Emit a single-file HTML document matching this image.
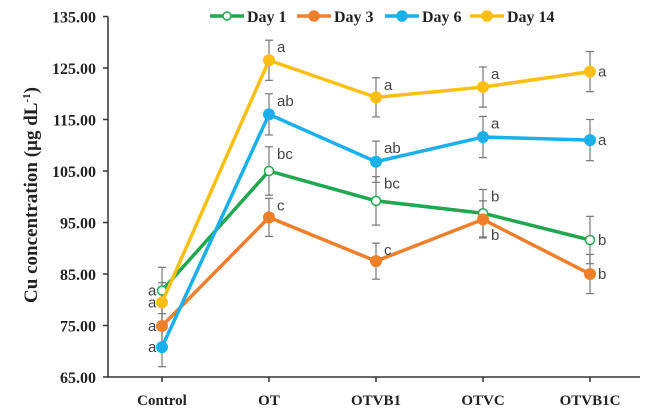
<!DOCTYPE html>
<html><head><meta charset="utf-8"><style>
body{margin:0;background:#fff}
svg{display:block}
.tk{font:bold 16px "Liberation Serif",serif;fill:#222}
.lt{font:15px "Liberation Sans",sans-serif;fill:#444}
</style></head><body>
<svg id="c" width="662" height="420" xmlns="http://www.w3.org/2000/svg"></svg>
<script>
const categories=["Control","OT","OTVB1","OTVC","OTVB1C"];
const yTicks=[65,75,85,95,105,115,125,135];
const seriesNames=["Day 1","Day 3","Day 6","Day 14"];
const seriesColors=["#1fa84f","#f07f2c","#1ab0ec","#fbbf14"];
const day1=[81.8,105,99.2,96.8,91.6];
const day3=[74.9,96,87.5,95.6,85];
const day6=[70.8,116,106.8,111.6,111];
const day14=[79.5,126.5,119.3,121.3,124.3];
const err1=[4.5,4.7,4.7,4.6,4.6];
const err3=[3.8,3.7,3.5,3.6,3.8];
const err6=[3.8,4,4,4,4];
const err14=[3.8,3.9,3.8,3.9,3.9];
const let1=["a","bc","bc","b","b"];
const let3=["a","c","c","b","b"];
const let6=["a","ab","ab","a","a"];
const let14=["a","a","a","a","a"];
const NS="http://www.w3.org/2000/svg";
const svg=document.getElementById('c');
const X0=108,X1=640,Y0=377,Y1=16.5;
const x=i=>162+i*107;
const y=v=>Y0-(v-65)/(135-65)*(Y0-Y1);
function mk(t,a,p){const e=document.createElementNS(NS,t);for(const k in a)e.setAttribute(k,a[k]);(p||svg).appendChild(e);return e;}
let ax=mk('line',{x1:X0,y1:Y1,x2:X0,y2:Y0,stroke:'#333','stroke-width':1.5});


let bx=mk('line',{x1:X0,y1:Y0,x2:X1,y2:Y0,stroke:'#333','stroke-width':1.5});


yTicks.forEach(v=>{
 mk('line',{x1:X0-5,y1:y(v),x2:X0,y2:y(v),stroke:'#333','stroke-width':1.5});
 const t=mk('text',{x:96,y:y(v)+6,'text-anchor':'end',class:'tk'});t.textContent=v.toFixed(2);
 
 
});
categories.forEach((c,i)=>{
 mk('line',{x1:x(i),y1:Y0,x2:x(i),y2:Y0+5,stroke:'#333','stroke-width':1.5});
 const t=mk('text',{x:x(i),y:405,'text-anchor':'middle',class:'tk',style:'font-size:15px'});t.textContent=c;
 
 
});
const yl=mk('text',{x:0,y:0,transform:'translate(37,195) rotate(-90)','text-anchor':'middle',class:'tk',style:'font-size:19px'});
yl.innerHTML='Cu concentration  (µg dL<tspan dy="-7" font-size="11">-1</tspan><tspan dy="7">)</tspan>';


const data=[day1,day3,day6,day14],errs=[err1,err3,err6,err14],lets=[let1,let3,let6,let14];
data.forEach((d,s)=>{d.forEach((v,i)=>{
 const g=mk('g',{stroke:'#777','stroke-width':1.2});
 
 
 const e=errs[s][i];
 mk('line',{x1:x(i),y1:y(v+e),x2:x(i),y2:y(v-e)},g);
 mk('line',{x1:x(i)-4,y1:y(v+e),x2:x(i)+4,y2:y(v+e)},g);
 mk('line',{x1:x(i)-4,y1:y(v-e),x2:x(i)+4,y2:y(v-e)},g);
});});
[0,1,2,3].forEach(s=>{
 const d=data[s],col=seriesColors[s];
 const pl=mk('polyline',{points:d.map((v,i)=>x(i)+','+y(v)).join(' '),fill:'none',stroke:col,'stroke-width':3.5});
 
 
 d.forEach((v,i)=>{
  const c=mk('circle',{cx:x(i),cy:y(v),r:s==0?4.5:6,fill:s==0?'#fff':col,stroke:col,'stroke-width':s==0?1.5:0});
  
  
  const lx=i==0?x(i)-14:x(i)+8;
  let ly=i==0?y(v)+5:(i==4?y(v)+5:y(v+errs[s][i])+12);
  if(s==1&&i==3) ly=y(v-errs[s][i])+2;
  const t=mk('text',{x:lx,y:ly,class:'lt'});t.textContent=lets[s][i];
  
  
 });
});
const lx=[210,297,385,470];
seriesNames.forEach((n,s)=>{
 const g=mk('g',{});
 
 
 mk('line',{x1:lx[s],y1:16,x2:lx[s]+34,y2:16,stroke:seriesColors[s],'stroke-width':3.5},g);
 mk('circle',{cx:lx[s]+17,cy:16,r:s==0?4:5,fill:s==0?'#fff':seriesColors[s],stroke:seriesColors[s],'stroke-width':1.5},g);
 const t=mk('text',{x:lx[s]+37,y:22,class:'tk',style:'font-size:16px'},g);t.textContent=n;
});
</script>
</body></html>
